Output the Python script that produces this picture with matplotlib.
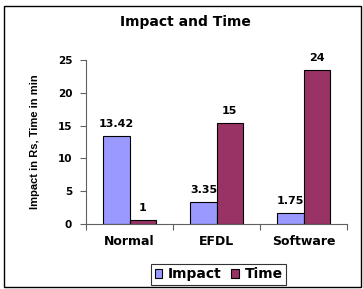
import matplotlib
matplotlib.use("Agg")
import matplotlib.pyplot as plt
from matplotlib.patches import Rectangle
import numpy as np

categories = ["Normal", "EFDL", "Software"]
impact = [13.42, 3.35, 1.75]
time_min = [0.6, 15.4, 23.5]
impact_labels = ["13.42", "3.35", "1.75"]
time_labels = ["1", "15", "24"]
yticks = [0, 5, 10, 15, 20, 25]

plt.rcParams['font.family'] = ['DejaVu Sans']
plt.rcParams['font.weight'] = 'bold'

fig = plt.figure(figsize=(3.63, 2.89), dpi=100)
fig.patch.set_facecolor('white')
fig.add_artist(Rectangle((0.011, 0.007), 0.983, 0.972, transform=fig.transFigure,
                         fill=False, edgecolor='black', linewidth=1.0))

ax = fig.add_axes([0.237, 0.225, 0.719, 0.567])
x = np.arange(len(categories))
w = 0.3
b1 = ax.bar(x - w/2, impact, w, color='#9999FF', edgecolor='black', linewidth=0.8, label='Impact')
b2 = ax.bar(x + w/2, time_min, w, color='#993366', edgecolor='black', linewidth=0.8, label='Time')

for rect, lab in zip(b1, impact_labels):
    ax.annotate(lab, (rect.get_x() + rect.get_width()/2, rect.get_height()),
                xytext=(0, 5), textcoords='offset points', ha='center', va='bottom',
                fontsize=8, fontweight='bold')
for rect, lab in zip(b2, time_labels):
    ax.annotate(lab, (rect.get_x() + rect.get_width()/2, rect.get_height()),
                xytext=(0, 5), textcoords='offset points', ha='center', va='bottom',
                fontsize=8, fontweight='bold')

ax.set_xlim(-0.5, 2.5)
ax.set_ylim(0, 25)
ax.set_yticks(yticks)
ax.set_yticklabels([str(t) for t in yticks], fontsize=7.5, fontweight='bold')
ax.set_xticks([-0.5, 0.5, 1.5, 2.5])
ax.set_xticklabels([])
ax.set_xticks(x, minor=True)
ax.set_xticklabels(categories, minor=True, fontsize=9, fontweight='bold')
ax.tick_params(axis='x', which='minor', length=0, pad=8)
ax.tick_params(axis='x', which='major', length=4, direction='out', color='#606060')
ax.tick_params(axis='y', length=4, direction='out', color='#606060', pad=6)
for s in ['top', 'right']:
    ax.spines[s].set_visible(False)
for s in ['left', 'bottom']:
    ax.spines[s].set_color('#606060')

ax.set_ylabel("Impact in Rs, Time in min", fontsize=8, fontweight='bold',
              family=['Liberation Sans'], labelpad=13)
fig.text(0.51, 0.924, "Impact and Time", ha='center', va='center', fontsize=10, fontweight='bold')

leg = fig.legend(handles=[b1, b2], loc='center', bbox_to_anchor=(0.602, 0.051), ncol=2,
                 frameon=True, fancybox=False, edgecolor='black',
                 handlelength=0.55, handleheight=0.55, handletextpad=0.4, columnspacing=0.7,
                 borderpad=0.25, borderaxespad=0, prop={'weight': 'bold', 'size': 10})
leg.get_frame().set_linewidth(0.8)

fig.savefig("out.png", dpi=100)
